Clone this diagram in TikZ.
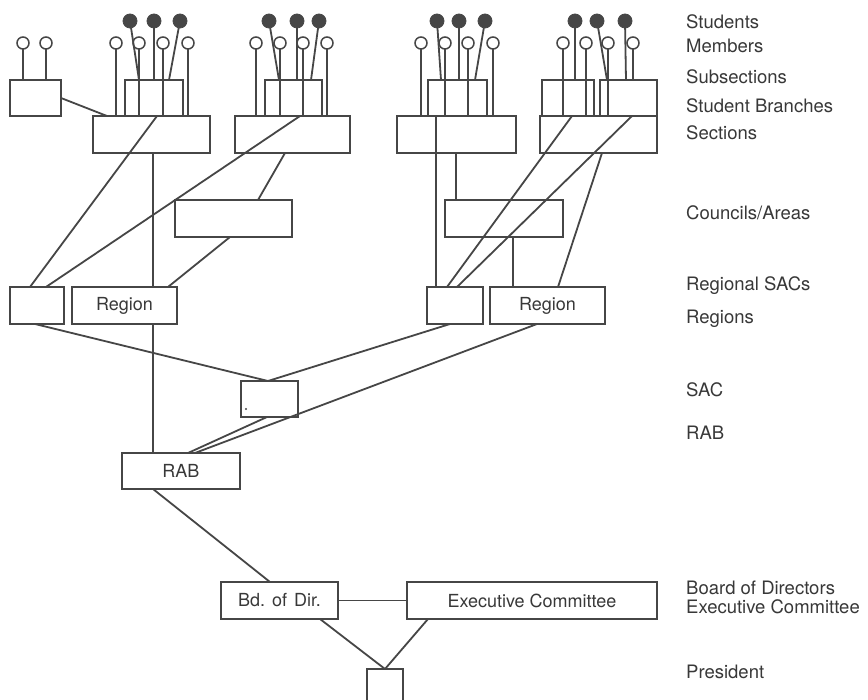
\documentclass[tikz,border=0pt]{standalone}
\usepackage{fontspec}
\setmainfont{TeX Gyre Heros}
\usetikzlibrary{calc}
\definecolor{ink}{HTML}{464646}
\definecolor{txt}{HTML}{383838}
\begin{document}
\begin{tikzpicture}[x=1pt,y=-1pt,
  bx/.style={draw=ink, line width=1.8pt, inner sep=0pt, outer sep=0pt, anchor=north west,
             font=\fontsize{18}{20}\selectfont, text=txt},
  oc/.style={circle, draw=ink, line width=1.5pt, minimum size=12pt, inner sep=0pt, outer sep=0pt},
  fc/.style={circle, fill=ink, draw=ink, line width=0.8pt, minimum size=14pt, inner sep=0pt, outer sep=0pt},
  ln/.style={draw=ink, line width=1.8pt},
  lab/.style={anchor=west, font=\fontsize{18.5}{20}\selectfont, text=txt, inner sep=0pt}]
\useasboundingbox[fill=white] (0,0) rectangle (868,700);

% ---- boxes
\node[bx, minimum width=51pt, minimum height=36pt] (boxA) at (10,80) {};
\node[bx, minimum width=58pt, minimum height=36pt] (sub1) at (125,80) {};
\node[bx, minimum width=117pt, minimum height=37pt] (sec1) at (93,116) {};
\node[bx, minimum width=57pt, minimum height=36pt] (sub2) at (265,80) {};
\node[bx, minimum width=115pt, minimum height=37pt] (sec2) at (235,116) {};
\node[bx, minimum width=59pt, minimum height=36pt] (sub3) at (428,80) {};
\node[bx, minimum width=119pt, minimum height=37pt] (sec3) at (397,116) {};
\node[bx, minimum width=52pt, minimum height=36pt] (sub4a) at (542,80) {};
\node[bx, minimum width=57pt, minimum height=36pt] (sub4b) at (600,80) {};
\node[bx, minimum width=117pt, minimum height=37pt] (sec4) at (540,116) {};
\node[bx, minimum width=117pt, minimum height=37pt] (coun1) at (175,200) {};
\node[bx, minimum width=118pt, minimum height=37pt] (coun2) at (445,200) {};
\node[bx, minimum width=54pt, minimum height=37pt] (rsac1) at (10,287) {};
\node[bx, minimum width=105pt, minimum height=37pt] (reg1) at (72,287) {Region};
\node[bx, minimum width=56pt, minimum height=37pt] (rsac2) at (427,287) {};
\node[bx, minimum width=115pt, minimum height=37pt] (reg2) at (490,287) {Region};
\node[bx, minimum width=57pt, minimum height=36pt] (sac) at (241,381) {};
\node[bx, minimum width=118pt, minimum height=36pt] (rab) at (122,453) {RAB};
\node[bx, minimum width=117pt, minimum height=37pt] (bod) at (221,582) {Bd.\hspace{7pt}of\hspace{7pt}Dir.};
\node[bx, minimum width=250pt, minimum height=37pt] (exec) at (407,582) {Executive Committee};
\node[bx, minimum width=36pt, minimum height=36pt] (pres) at (367,669) {};
\fill[ink] (246,409) circle (1.1pt);

% ---- open circles (members)
\foreach \n/\x in {a1/23,a2/46,o11/116,o12/139,o13/163,o14/188,o21/256,o22/280,o23/303,o24/327,
                   o31/421,o32/445,o33/468,o34/493,o41/563,o42/586,o43/608,o44/633}
  \node[oc] (\n) at (\x,43) {};
% ---- filled circles (students)
\foreach \n/\x in {f11/130,f12/154,f13/180,f21/269,f22/297,f23/319,f31/437,f32/459,f33/485,
                   f41/575,f42/597,f43/625}
  \node[fc] (\n) at (\x,21) {};

% ---- stems of members
\foreach \n in {a1,a2} \draw[ln] (\n.south) -- (\n.south |- boxA.north);
\foreach \n in {o11,o12,o13,o14} \draw[ln] (\n.south) -- (\n.south |- sec1.north);
\foreach \n in {o21,o22,o23,o24} \draw[ln] (\n.south) -- (\n.south |- sec2.north);
\foreach \n in {o31,o32,o33,o34} \draw[ln] (\n.south) -- (\n.south |- sec3.north);
\foreach \n in {o41,o42,o43} \draw[ln] (\n.south) -- (\n.south |- sec4.north);
\draw[ln] (o44.south) -- (o44.south |- sub4b.north);

% ---- students to subsections
\draw[ln] (f11) -- (139,0 |- sub1.north);
\draw[ln] (f12) -- (154,0 |- sub1.north);
\draw[ln] (f13) -- (169,0 |- sub1.north);
\draw[ln] (f21) -- (279,0 |- sub2.north);
\draw[ln] (f22) -- (297,0 |- sub2.north);
\draw[ln] (f23) -- (311,0 |- sub2.north);
\draw[ln] (f31) -- (441,0 |- sub3.north);
\draw[ln] (f32) -- (459,0 |- sub3.north);
\draw[ln] (f33) -- (475,0 |- sub3.north);
\draw[ln] (f41) -- (575,0 |- sub4a.north);
\draw[ln] (f42) -- (607,0 |- sub4b.north);
\draw[ln] (f43) -- (626,0 |- sub4b.north);

% ---- section level connectors
\draw[ln] (boxA.east) -- (107,0 |- sec1.north);
\draw[ln] (157,0 |- sec1.north) -- (30,0 |- rsac1.north);
\draw[ln] (153,0 |- sec1.south) -- (153,0 |- reg1.north);
\draw[ln] (153,0 |- reg1.south) -- (153,0 |- rab.north);
\draw[ln] (300,0 |- sec2.north) -- (46,0 |- rsac1.north);
\draw[ln] (285,0 |- sec2.south) -- (258,0 |- coun1.north);
\draw[ln] (230,0 |- coun1.south) -- (168,0 |- reg1.north);
\draw[ln] (436,0 |- sec3.north) -- (436,0 |- rsac2.north);
\draw[ln] (456,0 |- sec3.south) -- (456,0 |- coun2.north);
\draw[ln] (513,0 |- coun2.south) -- (513,0 |- reg2.north);
\draw[ln] (572,0 |- sec4.north) -- (447,0 |- rsac2.north);
\draw[ln] (632,0 |- sec4.north) -- (457,0 |- rsac2.north);
\draw[ln] (602,0 |- sec4.south) -- (558,0 |- reg2.north);

% ---- lower connectors
\draw[ln] (35,0 |- rsac1.south) -- (268,0 |- sac.north);
\draw[ln] (450,0 |- rsac2.south) -- (268,0 |- sac.north);
\draw[ln] (537,0 |- reg2.south) -- (195,0 |- rab.north);
\draw[ln] (267,0 |- sac.south) -- (188,0 |- rab.north);
\draw[ln] (153,0 |- rab.south) -- (270,0 |- bod.north);
\draw[ln] (bod.east) -- (exec.west);
\draw[ln] (320,0 |- bod.south) -- (pres.north);
\draw[ln] (428,0 |- exec.south) -- (pres.north);

% ---- labels
\node[lab] (l1) at (686,22) {Students};
\node[lab] (l2) at (686,46) {Members};
\node[lab] (l3) at (686,77) {Subsections};
\node[lab] (l4) at (686,106) {Student Branches};
\node[lab] (l5) at (686,133) {Sections};
\node[lab] (l6) at (686,213) {Councils/Areas};
\node[lab] (l7) at (686,286) {Regional SACs};
\node[lab] (l8) at (686,319) {Regions};
\node[lab] (l9) at (686,390) {SAC};
\node[lab] (l10) at (686,433) {RAB};
\node[lab] (l11) at (686,588) {Board of Directors};
\node[lab] (l12) at (686,607) {Executive Committee};
\node[lab] (l13) at (686,672) {President};
\end{tikzpicture}
\end{document}
